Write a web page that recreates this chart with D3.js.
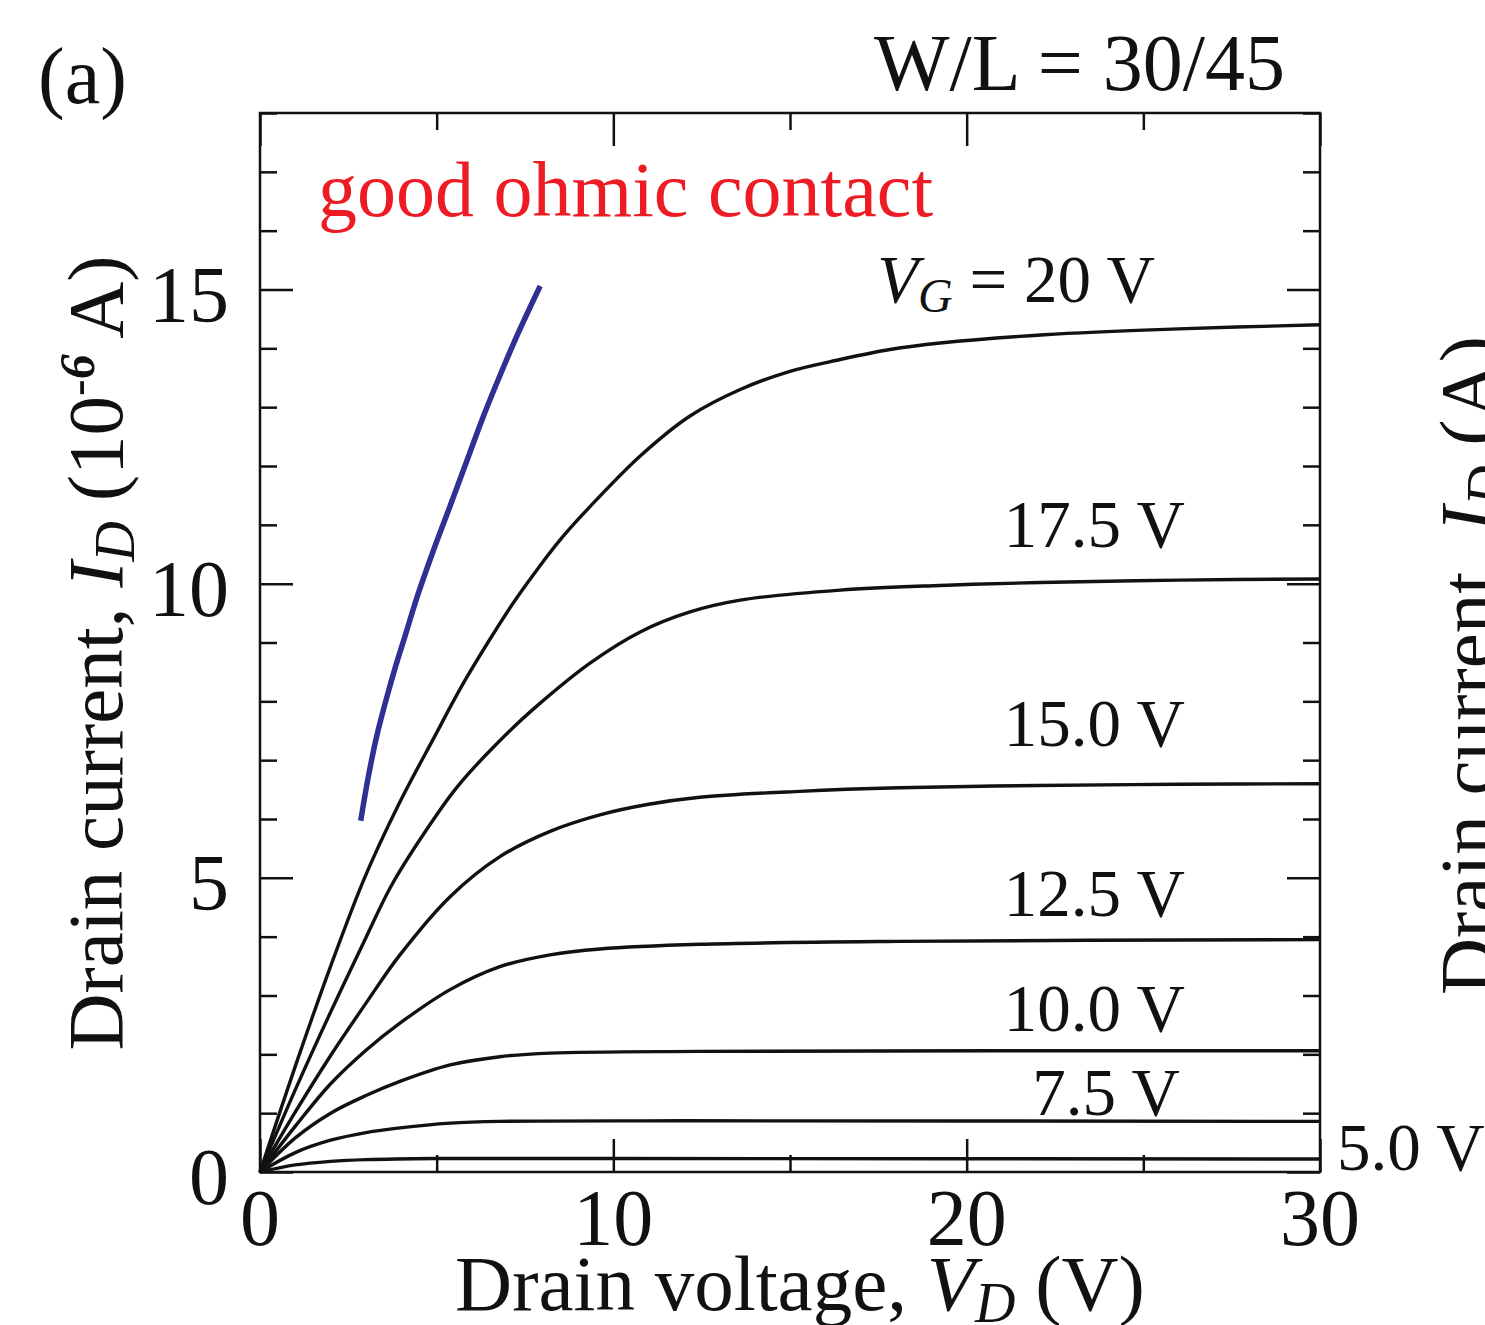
<!DOCTYPE html>
<html>
<head>
<meta charset="utf-8">
<script src="https://cdn.jsdelivr.net/npm/d3@7"></script>
<style>
  body { margin: 0; background: #fff; }
  svg { display: block; }
  text { font-family: "Liberation Serif", "Times New Roman", serif; fill: #111; }
</style>
</head>
<body>
<script>
// output curves, [drain voltage (V), drain current (1e-6 A)]
var curve20 = [[0,0],[1,1.8],[2,3.5],[2.96,5.0],[3.91,6.23],[4.94,7.4],[5.7,8.25],[6.45,9.0],[7.2,9.7],[7.93,10.31],[8.6,10.82],[9.34,11.31],[10.76,12.17],[12.17,12.85],[13.59,13.3],[15,13.61],[16.42,13.81],[17.83,13.98],[19.25,14.09],[22.2,14.23],[26,14.33],[30,14.4]];
var curve175 = [[0,0],[1,1.4],[2,2.72],[3.01,4.0],[3.72,4.87],[4.66,5.77],[5.6,6.56],[7.02,7.47],[7.93,7.97],[9.34,8.65],[10.76,9.18],[12.17,9.52],[13.59,9.72],[16.42,9.89],[19.25,9.97],[22.08,10.02],[26,10.06],[30,10.08]];
var curve15 = [[0,0],[1,1.02],[2,1.98],[3,2.87],[3.96,3.69],[5.38,4.68],[6.79,5.36],[8.21,5.79],[9.62,6.07],[11,6.25],[12.45,6.37],[15.28,6.47],[18.1,6.53],[22,6.57],[26,6.59],[30,6.6]];
var curve125 = [[0,0],[1,0.78],[2,1.5],[3,2.07],[3.96,2.53],[5.38,3.1],[6.79,3.49],[8.21,3.69],[9.62,3.79],[12.45,3.87],[18.1,3.92],[30,3.95]];
var curve10 = [[0,0],[1,0.58],[2,1.0],[3,1.3],[3.96,1.54],[5.38,1.82],[6.79,1.96],[8.21,2.02],[12.45,2.05],[30,2.06]];
var curve75 = [[0,0],[1,0.33],[2,0.54],[3,0.67],[3.96,0.75],[5.38,0.83],[6.79,0.86],[12,0.87],[30,0.86]];
var curve5 = [[0,0],[1,0.12],[2,0.18],[3,0.21],[5,0.23],[10,0.23],[30,0.22]];
var ohmicCurve = [[2.85,5.97],[3.06,6.7],[3.3,7.4],[3.58,8.05],[3.85,8.62],[4.1,9.1],[4.45,9.78],[4.9,10.55],[5.38,11.32],[5.85,12.08],[6.32,12.84],[6.8,13.55],[7.3,14.25],[7.93,15.06]];

var blackCurves = [curve20, curve175, curve15, curve125, curve10, curve75, curve5];
var gateLabels = ["20 V", "17.5 V", "15.0 V", "12.5 V", "10.0 V", "7.5 V", "5.0 V"];

var xMajor = [0, 10, 20, 30];
var xMinor = [5, 15, 25];
var yMajor = [0, 5, 10, 15];
var yMinor = [1,2,3,4,6,7,8,9,11,12,13,14,16,17,18];

var W = 1485, H = 1325;
var plotL = 260, plotR = 1320, plotT = 113, plotB = 1172;

var svg = d3.select("body").append("svg")
    .attr("width", W)
    .attr("height", H);

var x = d3.scaleLinear().domain([0, 30]).range([plotL, plotR]);
var y = d3.scaleLinear().domain([0, 18]).range([plotB, plotT]);

// ticks (inward, on all four sides)
function tickAxis(axis, pos, size, vals) {
  var g = svg.append("g")
    .attr("transform", pos)
    .call(axis.tickValues(vals).tickSize(size).tickFormat(""));
  g.select(".domain").remove();
  g.selectAll("text").remove();
  g.selectAll("line").attr("stroke", "#111").attr("stroke-width", 2.5);
}
tickAxis(d3.axisBottom(x), "translate(0," + plotB + ")", -33, xMajor);
tickAxis(d3.axisBottom(x), "translate(0," + plotB + ")", -17, xMinor);
tickAxis(d3.axisTop(x), "translate(0," + plotT + ")", -33, xMajor);
tickAxis(d3.axisTop(x), "translate(0," + plotT + ")", -17, xMinor);
tickAxis(d3.axisLeft(y), "translate(" + plotL + ",0)", -33, yMajor);
tickAxis(d3.axisLeft(y), "translate(" + plotL + ",0)", -17, yMinor);
tickAxis(d3.axisRight(y), "translate(" + plotR + ",0)", -33, yMajor);
tickAxis(d3.axisRight(y), "translate(" + plotR + ",0)", -17, yMinor);

svg.append("rect")
  .attr("x", x(0)).attr("y", y(18))
  .attr("width", x(30) - x(0)).attr("height", y(0) - y(18))
  .attr("fill", "none").attr("stroke", "#111").attr("stroke-width", 2.5);

// tick labels
svg.selectAll(".xlab").data(xMajor).enter().append("text")
  .attr("class", "xlab")
  .attr("x", function(d) { return x(d); })
  .attr("y", plotB + 73)
  .attr("text-anchor", "middle")
  .style("font-size", "80px")
  .text(function(d) { return d; });

svg.selectAll(".ylab").data(yMajor).enter().append("text")
  .attr("class", "ylab")
  .attr("x", plotL - 31)
  .attr("y", function(d) { return y(d) + 32; })
  .attr("text-anchor", "end")
  .style("font-size", "80px")
  .text(function(d) { return d; });

// curves
var line = d3.line()
  .x(function(d) { return x(d[0]); })
  .y(function(d) { return y(d[1]); })
  .curve(d3.curveCatmullRom.alpha(0.5));

svg.selectAll(".iv").data(blackCurves).enter().append("path")
  .attr("class", "iv")
  .attr("d", line)
  .attr("fill", "none")
  .attr("stroke", "#111")
  .attr("stroke-width", 3.4);

svg.append("path")
  .attr("d", line(ohmicCurve))
  .attr("fill", "none")
  .attr("stroke", "#2e3192")
  .attr("stroke-width", 5.5);

// curve labels
var labelPos = [[1155, 302], [1185, 547], [1185, 746], [1185, 916], [1185, 1031], [1180, 1115], [1337, 1170]];
gateLabels.forEach(function(lab, i) {
  var t = svg.append("text")
    .attr("x", labelPos[i][0])
    .attr("y", labelPos[i][1])
    .attr("text-anchor", i === 6 ? "start" : "end")
    .style("font-size", "67px");
  if (i === 0) {
    t.append("tspan").style("font-style", "italic").text("V");
    t.append("tspan").style("font-style", "italic").style("font-size", "48px").attr("dy", 10).text("G");
    t.append("tspan").attr("dy", -10).text(" = " + lab);
  } else {
    t.text(lab);
  }
});

svg.append("text")
  .attr("x", 318).attr("y", 216)
  .style("font-size", "78px")
  .style("fill", "#ed1c24")
  .text("good ohmic contact");

svg.append("text")
  .attr("x", 1285).attr("y", 90)
  .attr("text-anchor", "end")
  .style("font-size", "80px")
  .text("W/L = 30/45");

svg.append("text")
  .attr("x", 38).attr("y", 103)
  .style("font-size", "80px")
  .text("(a)");

// axis titles
var xt = svg.append("text")
  .attr("x", 800).attr("y", 1310)
  .attr("text-anchor", "middle")
  .style("font-size", "79px");
xt.append("tspan").text("Drain voltage, ");
xt.append("tspan").style("font-style", "italic").text("V");
xt.append("tspan").style("font-style", "italic").style("font-size", "56px").attr("dy", 12).text("D");
xt.append("tspan").attr("dy", -12).text(" (V)");

var yt = svg.append("text")
  .attr("transform", "translate(122,653) rotate(-90)")
  .attr("text-anchor", "middle")
  .style("font-size", "79px");
yt.append("tspan").text("Drain current, ");
yt.append("tspan").style("font-style", "italic").text("I");
yt.append("tspan").style("font-style", "italic").style("font-size", "56px").attr("dy", 12).text("D");
yt.append("tspan").attr("dy", -12).text(" (10");
yt.append("tspan").style("font-size", "50px").attr("dy", -28).text("-");
yt.append("tspan").style("font-size", "50px").style("font-style", "italic").style("font-weight", "bold").text("6");
yt.append("tspan").attr("dy", 28).text(" A)");

// title of the neighbouring panel, cut by the page edge
var yt2 = svg.append("text")
  .attr("transform", "translate(1494,995) rotate(-90)")
  .attr("text-anchor", "start")
  .style("font-size", "79px");
yt2.append("tspan").text("Drain current, ");
yt2.append("tspan").style("font-style", "italic").text("I");
yt2.append("tspan").style("font-style", "italic").style("font-size", "56px").attr("dy", 12).text("D");
yt2.append("tspan").attr("dy", -12).text(" (A)");
</script>
</body>
</html>
